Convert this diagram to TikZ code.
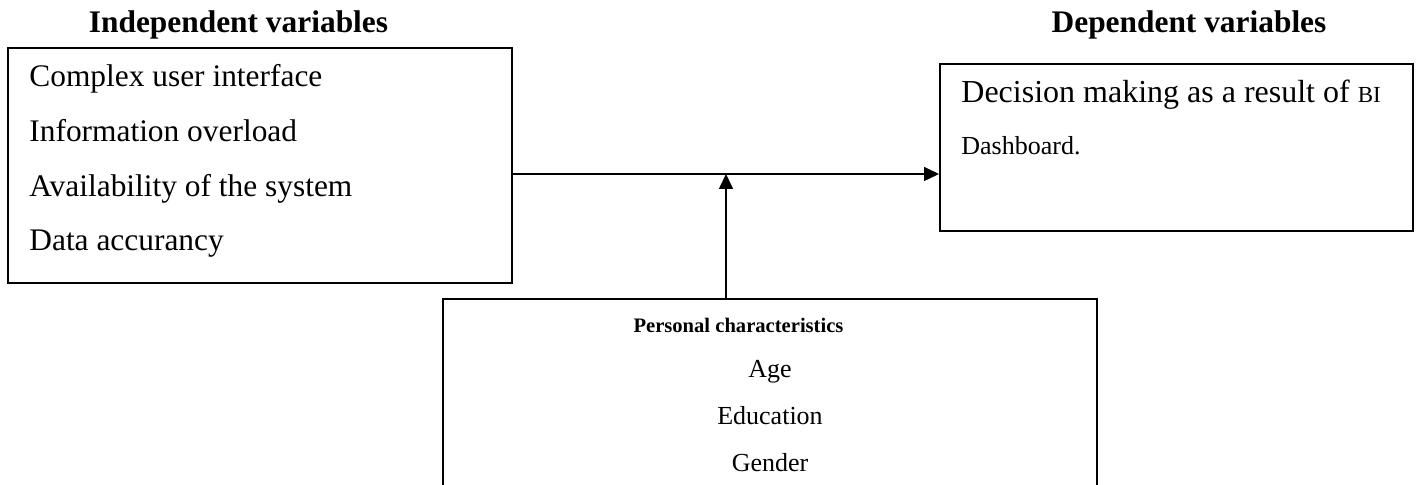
\documentclass[tikz,border=0pt]{standalone}
\usepackage{fontspec}
\setmainfont{Liberation Serif}
\usetikzlibrary{arrows.meta}

\begin{document}
\begin{tikzpicture}[x=0.5pt, y=-0.5pt,
  box/.style={draw, line width=1pt, inner sep=0pt},
  item/.style={anchor=base west, inner sep=0pt, font=\fontsize{15.7}{18}\selectfont},
  subitem/.style={anchor=base, inner sep=0pt, font=\fontsize{13}{15}\selectfont},
  head/.style={anchor=base, inner sep=0pt, font=\fontsize{15.7}{18}\selectfont\bfseries},
  link/.style={line width=0.8pt, -{Triangle[length=7.5pt, width=7pt]}}]
\useasboundingbox (0,0) rectangle (1419,485);
\node[head] (indtitle) at (238.5,33) {Independent variables}; \node[head] (deptitle) at (1189,33) {Dependent variables};
\node[box, minimum width=252pt, minimum height=117.5pt] (indbox) at (260,165.5) {};
\node[item] (ui) at (29,87) {Complex user interface}; \node[item] (overload) at (29,142) {Information overload};
\node[item] (avail) at (29,197) {Availability of the system}; \node[item] (accuracy) at (29,251) {Data accurancy};
\node[box, minimum width=236.5pt, minimum height=83.5pt] (depbox) at (1176.5,147.5) {};
\node[item, font=\fontsize{16}{18}\selectfont] (decision) at (961,103) {Decision making as a result of {\fontsize{11.5}{13}\selectfont BI}};
\node[item, font=\fontsize{13}{15}\selectfont] (dashboard) at (961,155) {Dashboard.};
\node[box, minimum width=327pt, minimum height=100.5pt] (persbox) at (770,399.5) {};
\node[subitem, font=\fontsize{10.3}{13}\selectfont\bfseries] (perstitle) at (738.5,333) {Personal characteristics};
\node[subitem] (age) at (770,378) {Age}; \node[subitem] (education) at (770,425) {Education}; \node[subitem] (gender) at (770,472) {Gender};
\coordinate (join) at (726,174);
\draw[link] (indbox.east |- join) -- (depbox.west |- join); \draw[link] (persbox.north -| join) -- (join);
\end{tikzpicture}
\end{document}
